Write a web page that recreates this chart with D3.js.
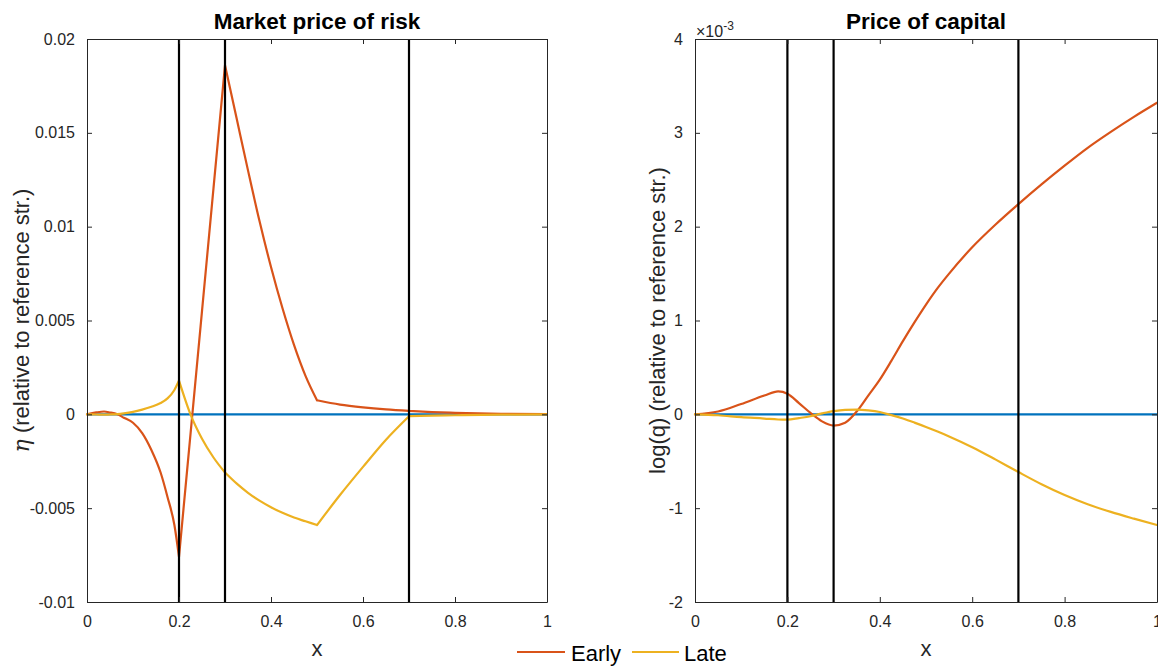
<!DOCTYPE html>
<html>
<head>
<meta charset="utf-8">
<script src="https://cdn.jsdelivr.net/npm/d3@7"></script>
<style>
  html, body { margin: 0; padding: 0; background: #fff; }
  svg { display: block; font-family: "Liberation Sans", Arial, Helvetica, sans-serif; }
</style>
</head>
<body>
<svg id="chart" width="1158" height="667"></svg>
<script>
// ---------- DATA ----------
const seriesNames = ["Early", "Late"];
const regimeBoundaries = [0.2, 0.3, 0.7];

// Panel 1: Market price of risk (eta relative to reference)
const etaX = [0, 0.02, 0.037, 0.05, 0.066, 0.08, 0.1, 0.12, 0.14, 0.16, 0.175, 0.19, 0.2,
  0.225, 0.25, 0.275, 0.3, 0.325, 0.35, 0.375, 0.4, 0.425, 0.45, 0.475, 0.5,
  0.55, 0.6, 0.65, 0.7, 0.75, 0.8, 0.9, 1.0];
const etaEarly = [0, 0.0001, 0.00015, 0.0001, 0, -0.00018, -0.00045, -0.001, -0.0019, -0.0031, -0.0044, -0.0059, -0.0076,
  -0.00105, 0.0055, 0.01205, 0.0186, 0.0158, 0.013, 0.0103, 0.00785, 0.00565, 0.0037, 0.00205, 0.00075,
  0.00052, 0.00037, 0.00026, 0.00018, 0.00012, 0.00008, 0.00003, 0.00001];
const etaLate = [0, -0.00001, -0.00002, -0.00001, 0.00001, 0.00005, 0.00013, 0.00025, 0.0004, 0.0006, 0.00085, 0.0013, 0.0018,
  0.0, -0.0013, -0.0023, -0.0031, -0.00368, -0.00418, -0.0046, -0.00495, -0.00525, -0.0055, -0.0057, -0.0059,
  -0.0043, -0.0028, -0.00135, -0.0001, -0.00007, -0.00005, -0.00002, 0];
const etaKinks = [0.2, 0.3, 0.5, 0.7];
const etaTicks = [-0.01, -0.005, 0, 0.005, 0.01, 0.015, 0.02];
const etaTickLabels = ["-0.01", "-0.005", "0", "0.005", "0.01", "0.015", "0.02"];

// Panel 2: Price of capital (log q relative to reference), in units of 1e-3
const qX = [0, 0.05, 0.1, 0.15, 0.18, 0.2, 0.225, 0.25, 0.275, 0.3, 0.325, 0.35, 0.375, 0.4,
  0.425, 0.45, 0.475, 0.5, 0.525, 0.55, 0.6, 0.65, 0.7, 0.75, 0.8, 0.85, 0.9, 0.95, 1.0];
const qEarly = [0, 0.03, 0.11, 0.2, 0.245, 0.22, 0.12, 0.015, -0.075, -0.12, -0.09, 0.03, 0.2, 0.37,
  0.57, 0.78, 0.98, 1.17, 1.345, 1.5, 1.78, 2.02, 2.24, 2.45, 2.65, 2.84, 3.01, 3.17, 3.32];
const qLate = [0, -0.01, -0.03, -0.045, -0.055, -0.057, -0.04, -0.02, 0.01, 0.035, 0.048, 0.05, 0.042, 0.025,
  -0.008, -0.045, -0.088, -0.134, -0.183, -0.235, -0.35, -0.48, -0.615, -0.745, -0.86, -0.958, -1.04, -1.112, -1.18];
const qKinks = [];
const qTicks = [-2, -1, 0, 1, 2, 3, 4];
const qTickLabels = ["-2", "-1", "0", "1", "2", "3", "4"];

const refX = [0, 1];
const refY = [0, 0];
const xTicks = [0, 0.2, 0.4, 0.6, 0.8, 1];
const xTickLabels = ["0", "0.2", "0.4", "0.6", "0.8", "1"];

// ---------- STYLE ----------
const colors = { ref: "#0072BD", Early: "#D95319", Late: "#EDB120" };
const axisColor = "#262626";
const svg = d3.select("#chart");

function segmentedPath(line, xs, ys, kinks) {
  const pts = d3.zip(xs, ys);
  const segs = [];
  let cur = [];
  pts.forEach(p => {
    cur.push(p);
    if (kinks.includes(p[0])) { segs.push(cur); cur = [p]; }
  });
  if (cur.length > 1) segs.push(cur);
  return segs.map(s => line(s)).join("");
}

function panel(opts) {
  const { left, right, top, bottom, yDomain, yTicks, yTickLabels, xs, early, late, kinks, title, ylabelParts, ylabelX } = opts;
  const x = d3.scaleLinear().domain([0, 1]).range([left, right]);
  const y = d3.scaleLinear().domain(yDomain).range([bottom, top]);
  const g = svg.append("g");

  const line = d3.line().x(d => x(d[0])).y(d => y(d[1])).curve(d3.curveMonotoneX);
  g.append("path").attr("d", line(d3.zip(refX, refY)))
    .attr("fill", "none").attr("stroke", colors.ref).attr("stroke-width", 2.2);
  [["Early", early], ["Late", late]].forEach(([name, ys]) => {
    g.append("path").attr("d", segmentedPath(line, xs, ys, kinks))
      .attr("fill", "none").attr("stroke", colors[name]).attr("stroke-width", 2.2)
      .attr("stroke-linejoin", "round").attr("stroke-linecap", "round");
  });

  g.selectAll("line.vl").data(regimeBoundaries).enter().append("line")
    .attr("x1", d => x(d)).attr("x2", d => x(d))
    .attr("y1", top).attr("y2", bottom)
    .attr("stroke", "#000").attr("stroke-width", 2.2);

  const tickLen = 5;
  const axB = d3.axisBottom(x).tickValues(xTicks).tickFormat((d, i) => xTickLabels[i]).tickSizeInner(-tickLen).tickSizeOuter(0).tickPadding(14);
  const axT = d3.axisTop(x).tickValues(xTicks).tickFormat("").tickSizeInner(-tickLen).tickSizeOuter(0);
  const axL = d3.axisLeft(y).tickValues(yTicks).tickFormat((d, i) => yTickLabels[i]).tickSizeInner(-tickLen).tickSizeOuter(0).tickPadding(12);
  const axR = d3.axisRight(y).tickValues(yTicks).tickFormat("").tickSizeInner(-tickLen).tickSizeOuter(0);
  const gB = g.append("g").attr("transform", `translate(0,${bottom})`).call(axB);
  const gT = g.append("g").attr("transform", `translate(0,${top})`).call(axT);
  const gL = g.append("g").attr("transform", `translate(${left},0)`).call(axL);
  const gR = g.append("g").attr("transform", `translate(${right},0)`).call(axR);
  [gB, gT, gL, gR].forEach(a => {
    a.selectAll("path.domain").attr("stroke", axisColor).attr("stroke-width", 1);
    a.selectAll(".tick line").attr("stroke", axisColor).attr("stroke-width", 1);
    a.selectAll(".tick text").attr("fill", axisColor).style("font-size", "16px")
      .style("font-family", '"Liberation Sans", Arial, Helvetica, sans-serif');
  });

  g.append("text").attr("x", (left + right) / 2).attr("y", 29).attr("text-anchor", "middle")
    .style("font-size", "22.5px").style("font-weight", "bold").attr("fill", "#000").text(title);
  g.append("text").attr("x", (left + right) / 2).attr("y", 656).attr("text-anchor", "middle")
    .style("font-size", "22px").attr("fill", axisColor).text("x");
  const yl = g.append("text").attr("transform", `translate(${ylabelX},${(top + bottom) / 2}) rotate(-90)`)
    .attr("text-anchor", "middle").style("font-size", "22px").attr("fill", axisColor);
  ylabelParts.forEach(p => {
    const t = yl.append("tspan").text(p.text);
    if (p.italic) t.style("font-style", "italic").style("font-family", '"DejaVu Serif", "Liberation Serif", serif');
  });
}

panel({
  left: 87, right: 547, top: 39, bottom: 602,
  yDomain: [-0.01, 0.02], yTicks: etaTicks, yTickLabels: etaTickLabels,
  xs: etaX, early: etaEarly, late: etaLate, kinks: etaKinks,
  title: "Market price of risk",
  ylabelParts: [{ text: "η", italic: true }, { text: " (relative to reference str.)" }],
  ylabelX: 29
});

panel({
  left: 695, right: 1157, top: 39, bottom: 602,
  yDomain: [-2, 4], yTicks: qTicks, yTickLabels: qTickLabels,
  xs: qX, early: qEarly, late: qLate, kinks: qKinks,
  title: "Price of capital",
  ylabelParts: [{ text: "log(q) (relative to reference str.)" }],
  ylabelX: 665
});

// exponent label for right panel
const expo = svg.append("text").attr("x", 696).attr("y", 37).attr("fill", axisColor).style("font-size", "16px");
expo.append("tspan").text("×10");
expo.append("tspan").attr("dy", -7).style("font-size", "12px").text("-3");

// legend
const legendItems = [
  { name: seriesNames[0], x1: 517, x2: 565, tx: 571 },
  { name: seriesNames[1], x1: 632, x2: 679, tx: 684 }
];
const lg = svg.append("g");
legendItems.forEach(it => {
  lg.append("line").attr("x1", it.x1).attr("x2", it.x2).attr("y1", 652).attr("y2", 652)
    .attr("stroke", colors[it.name]).attr("stroke-width", 2.2);
  lg.append("text").attr("x", it.tx).attr("y", 661).style("font-size", "22px").attr("fill", "#000").text(it.name);
});
</script>
</body>
</html>
